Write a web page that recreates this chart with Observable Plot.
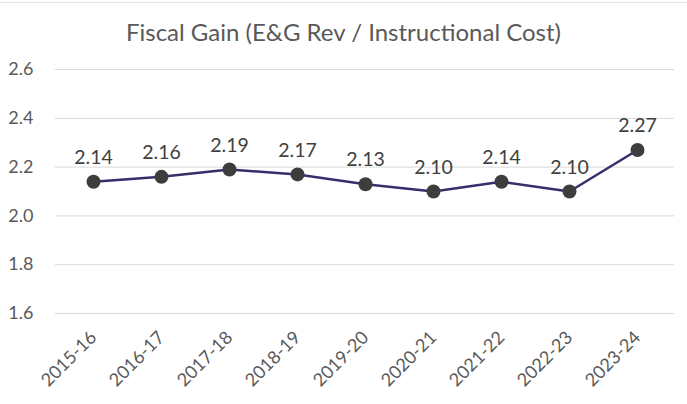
<!DOCTYPE html>
<html>
<head>
<meta charset="utf-8">
<script src="https://cdn.jsdelivr.net/npm/d3@7"></script>
<script src="https://cdn.jsdelivr.net/npm/@observablehq/plot@0.6"></script>
<style>
  html, body { margin: 0; padding: 0; background: #fff; }
  #wrap { width: 687px; height: 404px; position: relative; overflow: hidden; font-family: Lato, "Open Sans", sans-serif; }
  #topline { position: absolute; left: 0; top: 2px; width: 687px; height: 1px; background: #e3e3e3; }
  #title { height: 50px; box-sizing: border-box; padding-top: 18px; text-align: center; font-size: 24px; color: #595959; line-height: 28px; }
</style>
</head>
<body>
<div id="wrap">
  <div id="topline"></div>
  <div id="title">Fiscal Gain (E&amp;G Rev / Instructional Cost)</div>
  <div id="chart"></div>
</div>
<script>
const years = ["2015-16","2016-17","2017-18","2018-19","2019-20","2020-21","2021-22","2022-23","2023-24"];
const values = [2.14, 2.16, 2.19, 2.17, 2.13, 2.10, 2.14, 2.10, 2.27];
const yTicks = [1.6, 1.8, 2.0, 2.2, 2.4, 2.6];

const data = years.map((y, i) => ({year: y, value: values[i]}));

const chart = Plot.plot({
  width: 687,
  height: 354,
  marginLeft: 55,
  marginRight: 13,
  marginTop: 19,
  marginBottom: 91,
  style: { fontFamily: "Lato, 'Open Sans', sans-serif", fontSize: "18px", color: "#595959", background: "#fff" },
  x: { type: "point", domain: years, padding: 0.5, label: null },
  y: { domain: [1.6, 2.6], label: null },
  marks: [
    Plot.gridY(yTicks, { stroke: "#d9d9d9", strokeOpacity: 1, strokeWidth: 1 }),
    Plot.axisY(yTicks, { tickSize: 0, tickPadding: 22, tickFormat: d => d.toFixed(1), fill: "#595959", fontSize: 18, label: null }),
    Plot.axisX({ tickSize: 0, tickPadding: 21, tickRotate: -45, fill: "#595959", fontSize: 18, label: null }),
    Plot.line(data, { x: "year", y: "value", stroke: "#3b2c6b", strokeWidth: 2.5 }),
    Plot.dot(data, { x: "year", y: "value", r: 7, fill: "#3d3d3d", stroke: "none" }),
    Plot.text(data, { x: "year", y: "value", text: d => d.value.toFixed(2), dy: -24, fill: "#404040", fontSize: 19.5 })
  ]
});
document.getElementById("chart").appendChild(chart);
</script>
</body>
</html>
